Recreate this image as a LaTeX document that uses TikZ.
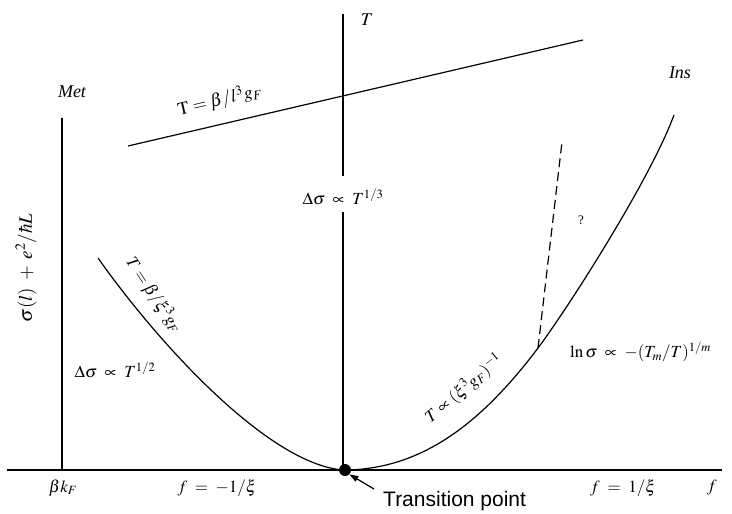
\documentclass[tikz,border=0pt]{standalone}
\usepackage{mathptmx}
\usepackage[no-math]{fontspec}
\setmainfont{Liberation Serif}
\newfontfamily\labsans{Liberation Sans}
\usetikzlibrary{arrows.meta}
\tikzset{
  axisline/.style={line width=1.2pt},
  curveline/.style={line width=1.2pt},
  mlabel/.style={font=\fontsize{17}{19}\selectfont, inner sep=0pt},
  tlabel/.style={font=\fontsize{18}{20}\selectfont\itshape, inner sep=0pt},
}
\begin{document}
\begin{tikzpicture}[x=1pt,y=-1pt]
\useasboundingbox (0,0) rectangle (732,514);
% axes
\coordinate (hx0) at (7,470);
\coordinate (hx1) at (722,470);
\draw[axisline] (hx0) -- (hx1);
\coordinate (tp) at (343,14);
\coordinate (tgap1) at (343,176);
\coordinate (tgap2) at (343,212);
\coordinate (tb) at (343,470);
\draw[axisline] (tp) -- (tgap1);
\draw[axisline] (tgap2) -- (tb);
\node[tlabel] (Tlab) at (367,20) {$T$};
\node[mlabel] (ds13) at (343,197) {$\Delta\sigma\;\propto\;T^{1/3}$};
% Met line
\coordinate (m0) at (62,118);
\coordinate (m1) at (62,470);
\draw[axisline] (m0) -- (m1);
\node[tlabel] (met) at (72,92) {Met};
% top line
\coordinate (l0) at (128,146);
\coordinate (l1) at (583,40);
\draw[curveline] (l0) -- (l1);
\node[mlabel, font=\fontsize{18}{20}\selectfont, rotate=13.1] (toplab) at (220,100) {$\mathrm{T}=\beta/l^{3}g_{F}$};
% y label
\node[mlabel, font=\fontsize{19}{21}\selectfont, rotate=90] (ylab) at (26,268) {$\sigma(l)\;+\;e^{2}/\hbar L$};
% curve
\coordinate (cL) at (98,258);
\coordinate (cM) at (343,470);
\coordinate (cJ) at (538,348);
\coordinate (cR) at (674,115);
\draw[curveline] (cL) .. controls (158,343) and (268,464) .. (cM)
  .. controls (420,470) and (480,425) .. (cJ)
  .. controls (568,308) and (650,180) .. (cR);
% dashed
\coordinate (d1) at (562,142);
\draw[curveline, dash pattern=on 9pt off 5pt] (cJ) -- (d1);
\node[mlabel, font=\fontsize{13}{15}\selectfont] (q) at (581,220) {?};
\node[tlabel] (ins) at (680,73) {Ins};
% branch labels
\node[mlabel, rotate=-56.5] (lbranch) at (154,295) {$T=\beta/\xi^{3}g_{F}$};
\node[mlabel] (ds12) at (115,370) {$\Delta\sigma\;\propto\;T^{1/2}$};
\node[mlabel, rotate=40] (rbranch) at (464,389) {$T\propto(\xi^{3}g_{F})^{-1}$};
\node[mlabel, anchor=west] (lns) at (570,352) {$\ln\sigma\;\propto\;-(T_{m}/T)^{1/m}$};
% bottom labels
\node[mlabel] (bk) at (63,488) {$\beta k_{F}$};
\node[mlabel] (fm) at (217,488) {$f\;=\;-1/\xi$};
\node[mlabel] (fp) at (623,488) {$f\;=\;1/\xi$};
\node[mlabel] (f) at (712,488) {$f$};
% transition point
\node[circle, fill=black, inner sep=0pt, minimum size=12pt] (dot) at (345,470) {};
\node[font=\fontsize{21}{23}\selectfont\labsans, anchor=base west, inner sep=0pt] (trans) at (383,506) {Transition point};
\coordinate (arrtail) at (374,489);
\draw[line width=1.2pt, -{Triangle[length=9pt,width=6pt]}] (arrtail) -- (dot.south east);
\end{tikzpicture}
\end{document}
